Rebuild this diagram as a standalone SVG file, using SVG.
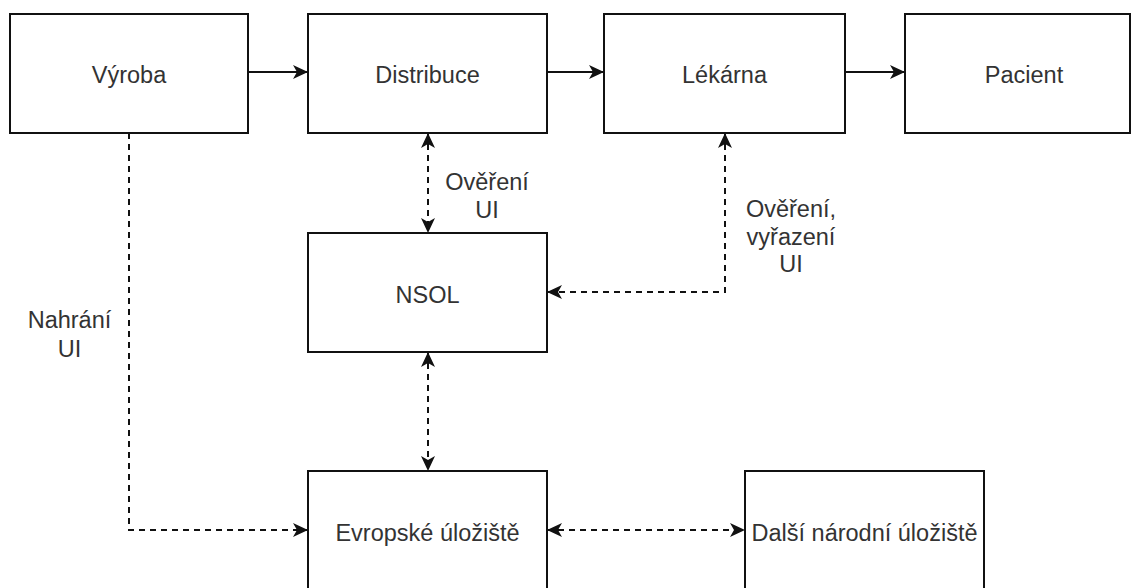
<svg xmlns="http://www.w3.org/2000/svg" width="1132" height="588" viewBox="0 0 1132 588">
  <style>
    .box { fill: #ffffff; stroke: #111111; stroke-width: 2; }
    .lbl { font-family: "Liberation Sans", Arial, sans-serif; font-size: 23.5px; fill: #333333; text-anchor: middle; }
    .edge { fill: none; stroke: #111111; stroke-width: 2; }
    .dash { stroke-dasharray: 6 5; }
  </style>
  <defs>
    <marker id="arrow" viewBox="0 0 15 14" refX="15" refY="7" markerWidth="15" markerHeight="14" orient="auto-start-reverse" markerUnits="userSpaceOnUse">
      <path d="M0,0 L15,7 L0,14 L4,7 z" fill="#111111"/>
    </marker>
  </defs>
  <rect width="1132" height="588" fill="#ffffff"/>

  <!-- connectors -->
  <g id="connectors">
    <line class="edge" x1="248" y1="72" x2="308" y2="72" marker-end="url(#arrow)"/>
    <line class="edge" x1="547" y1="72" x2="604" y2="72" marker-end="url(#arrow)"/>
    <line class="edge" x1="845" y1="72" x2="905" y2="72" marker-end="url(#arrow)"/>
    <line class="edge dash" x1="428" y1="133" x2="428" y2="233" marker-start="url(#arrow)" marker-end="url(#arrow)"/>
    <polyline class="edge dash" points="725,133 725,292 547,292" marker-start="url(#arrow)" marker-end="url(#arrow)"/>
    <line class="edge dash" x1="428" y1="352" x2="428" y2="471" marker-start="url(#arrow)" marker-end="url(#arrow)"/>
    <polyline class="edge dash" points="129,133 129,530 308,530" marker-end="url(#arrow)"/>
    <line class="edge dash" x1="547" y1="530" x2="745" y2="530" marker-start="url(#arrow)" marker-end="url(#arrow)"/>
    <text class="lbl" x="487" y="190">Ověření</text>
    <text class="lbl" x="487" y="218">UI</text>
    <text class="lbl" x="791" y="216.5">Ověření,</text>
    <text class="lbl" x="791" y="244.5">vyřazení</text>
    <text class="lbl" x="791" y="272">UI</text>
    <text class="lbl" x="69.5" y="328">Nahrání</text>
    <text class="lbl" x="69.5" y="357">UI</text>
  </g>

  <!-- nodes -->
  <g id="vyroba">
    <rect class="box" x="10" y="14" width="238" height="119"/>
    <text class="lbl" x="129" y="82.5">Výroba</text>
  </g>
  <g id="distribuce">
    <rect class="box" x="308" y="14" width="239" height="119"/>
    <text class="lbl" x="427.5" y="82.5">Distribuce</text>
  </g>
  <g id="lekarna">
    <rect class="box" x="604" y="14" width="241" height="119"/>
    <text class="lbl" x="724.5" y="82.5">Lékárna</text>
  </g>
  <g id="pacient">
    <rect class="box" x="905" y="14" width="225" height="119"/>
    <text class="lbl" x="1024" y="82.5">Pacient</text>
  </g>
  <g id="nsol">
    <rect class="box" x="308" y="233" width="239" height="119"/>
    <text class="lbl" x="427.5" y="303">NSOL</text>
  </g>
  <g id="evropske-uloziste">
    <rect class="box" x="308" y="471" width="239" height="130"/>
    <text class="lbl" x="427.5" y="541">Evropské úložiště</text>
  </g>
  <g id="dalsi-narodni-uloziste">
    <rect class="box" x="745" y="471" width="239" height="130"/>
    <text class="lbl" x="864.5" y="541">Další národní úložiště</text>
  </g>
</svg>
